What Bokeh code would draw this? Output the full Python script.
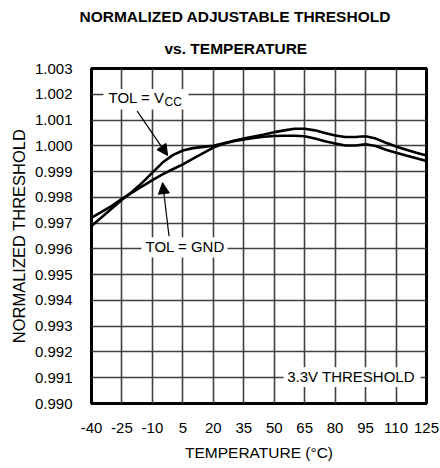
from bokeh.plotting import figure
from bokeh.models import (Range1d, FixedTicker, PrintfTickFormatter, Title, Label,
                          BoxAnnotation, Arrow, NormalHead)
from bokeh.embed import file_html
from bokeh.resources import INLINE

# ---- data ----
temperature = [-40, -35, -30, -25, -20, -15, -10, -5, 0, 5, 10, 15, 20, 25, 30, 35,
               40, 45, 50, 55, 60, 65, 70, 75, 80, 85, 90, 95, 100, 105, 110, 115, 120, 125]
tol_vcc = [0.99689, 0.99723, 0.99757, 0.99791, 0.99822, 0.99857, 0.99896, 0.99935,
           0.99964, 0.99982, 0.99991, 0.99996, 1.00000, 1.00010, 1.00020, 1.00028,
           1.00036, 1.00044, 1.00053, 1.00060, 1.00066, 1.00066, 1.00060, 1.00050,
           1.00040, 1.00034, 1.00034, 1.00037, 1.00028, 1.00012, 0.99997, 0.99985,
           0.99973, 0.99962]
tol_gnd = [0.99721, 0.99744, 0.99767, 0.99794, 0.99818, 0.99843, 0.99867, 0.99889,
           0.99909, 0.99928, 0.99950, 0.99972, 0.99993, 1.00008, 1.00018, 1.00025,
           1.00030, 1.00035, 1.00038, 1.00039, 1.00039, 1.00037, 1.00028, 1.00018,
           1.00009, 1.00001, 1.00001, 1.00006, 0.99999, 0.99985, 0.99973, 0.99962,
           0.99952, 0.99941]
x_ticks = [-40, -25, -10, 5, 20, 35, 50, 65, 80, 95, 110, 125]
y_ticks = [0.990, 0.991, 0.992, 0.993, 0.994, 0.995, 0.996, 0.997, 0.998, 0.999,
           1.000, 1.001, 1.002, 1.003]

FONT = "Liberation Sans"

p = figure(frame_width=335, frame_height=335,
           min_border_left=91, min_border_right=14, min_border_top=68, min_border_bottom=56,
           x_range=Range1d(-40, 125), y_range=Range1d(0.990, 1.003),
           output_backend="svg", toolbar_location=None,
           background_fill_color="white", border_fill_color="white")

# titles (added inner first)
t2 = Title(text="vs. TEMPERATURE", align="left", offset=73, standoff=24,
           text_font=FONT, text_font_size="15.5px", text_font_style="bold", text_color="black")
t1 = Title(text="NORMALIZED ADJUSTABLE THRESHOLD", align="left", offset=-12, standoff=2,
           text_font=FONT, text_font_size="15.5px", text_font_style="bold", text_color="black")
p.add_layout(t2, "above")
p.add_layout(t1, "above")

p.outline_line_color = "black"
p.outline_line_width = 3

for ax in (p.xaxis[0], p.yaxis[0]):
    ax.axis_line_color = None
    ax.major_tick_line_color = None
    ax.minor_tick_line_color = None
    ax.major_label_text_font = FONT
    ax.major_label_text_font_size = "15px"
    ax.major_label_text_color = "black"
    ax.axis_label_text_font = FONT
    ax.axis_label_text_font_style = "normal"
    ax.axis_label_text_color = "black"

p.xaxis.ticker = FixedTicker(ticks=x_ticks)
p.xaxis.formatter = PrintfTickFormatter(format="%d")
p.xaxis.axis_label = "TEMPERATURE (°C)"
p.xaxis.axis_label_text_font_size = "15.5px"
p.xaxis.major_label_standoff = 13
p.xaxis.axis_label_standoff = 8

p.yaxis.ticker = FixedTicker(ticks=y_ticks)
p.yaxis.formatter = PrintfTickFormatter(format="%.3f")
p.yaxis.axis_label = "NORMALIZED THRESHOLD"
p.yaxis.axis_label_text_font_size = "16.5px"
p.yaxis.major_label_standoff = 13
p.yaxis.axis_label_standoff = 4

p.xgrid.ticker = FixedTicker(ticks=x_ticks)
p.ygrid.ticker = FixedTicker(ticks=y_ticks)
for g in (p.xgrid[0], p.ygrid[0]):
    g.grid_line_color = "#404040"
    g.grid_line_width = 1.6

# curves
p.line(temperature, tol_vcc, line_color="black", line_width=2.6)
p.line(temperature, tol_gnd, line_color="black", line_width=2.6)

# annotation boxes (white background breaking the grid)
p.add_layout(BoxAnnotation(left=-34.1, right=7.8, top=1.00220, bottom=1.00141,
                           fill_color="white", fill_alpha=1, line_color=None))
p.add_layout(BoxAnnotation(left=-15.4, right=27.0, top=0.99645, bottom=0.99567,
                           fill_color="white", fill_alpha=1, line_color=None))
p.add_layout(BoxAnnotation(left=54.6, right=122.1, top=0.99141, bottom=0.99064,
                           fill_color="white", fill_alpha=1, line_color=None))

def lab(text, x, y, size="15px", xo=0, yo=0, **kw):
    p.add_layout(Label(x=x, y=y, text=text, x_offset=xo, y_offset=yo,
                       text_font=FONT, text_font_size=size, text_color="black",
                       text_baseline=kw.pop("baseline", "middle"),
                       text_align=kw.pop("align", "left"), **kw))

lab("TOL = V", -31.6, 1.00186)
lab("CC", -31.6, 1.00186, size="12px", xo=56, yo=-4)
lab("TOL = GND", -13.4, 0.99608)
lab("3.3V THRESHOLD", 56.4, 0.99104)
lab("MAX16041 toc04", 125, 1.003, size="8px", xo=9, align="right",
    baseline="middle", angle=1.5708)

# arrows
p.add_layout(Arrow(x_start=-17.5, y_start=1.001345, x_end=-2.5, y_end=0.99962,
                   line_color="black", line_width=1.2,
                   end=NormalHead(size=11, fill_color="black", line_color="black")))
p.add_layout(Arrow(x_start=-1.8, y_start=0.99649, x_end=-5.0, y_end=0.99857,
                   line_color="black", line_width=1.2,
                   end=NormalHead(size=11, fill_color="black", line_color="black")))

open("out.html", "w").write(file_html(p, INLINE))
